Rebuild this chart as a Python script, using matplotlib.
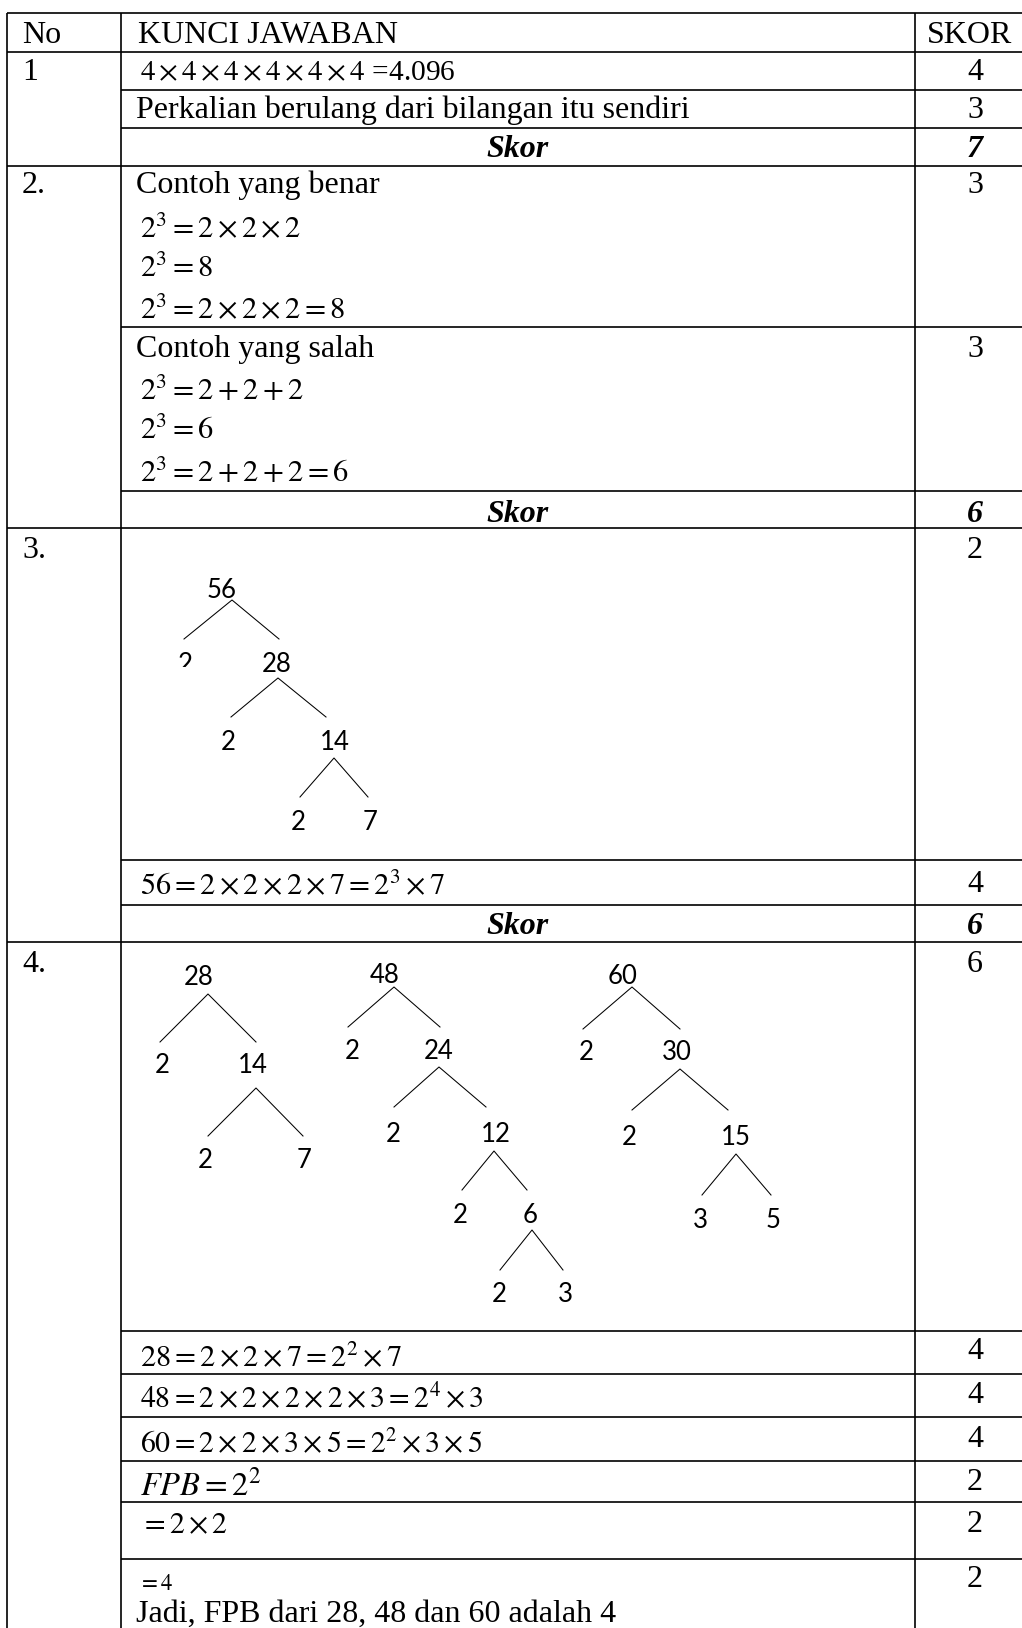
import matplotlib.pyplot as plt
from matplotlib.transforms import Bbox, TransformedBbox

plt.rcParams['mathtext.fontset'] = 'stix'

W, H = 1022, 1628

# table content
header = ["No", "KUNCI JAWABAN", "SKOR"]
numbers = ["1", "2.", "3.", "4."]

q1_lines = [r"$4\times4\times4\times4\times4\times4$ =4.096",
            "Perkalian berulang dari bilangan itu sendiri"]
q1_scores = ["4", "3"]
q1_total = "7"

q2_benar = ["Contoh yang benar", r"$2^3=2\times2\times2$", r"$2^3=8$",
            r"$2^3=2\times2\times2=8$"]
q2_salah = ["Contoh yang salah", r"$2^3=2+2+2$", r"$2^3=6$",
            r"$2^3=2+2+2=6$"]
q2_scores = ["3", "3"]
q2_total = "6"

q3_eq = r"$56=2\times2\times2\times7=2^3\times7$"
q3_scores = ["2", "4"]
q3_total = "6"

q4_eqs = [r"$28=2\times2\times7=2^2\times7$",
          r"$48=2\times2\times2\times2\times3=2^4\times3$",
          r"$60=2\times2\times3\times5=2^2\times3\times5$",
          r"$FPB=2^2$",
          r"$=2\times2$"]
q4_last = [r"$=4$", "Jadi, FPB dari 28, 48 dan 60 adalah 4"]
q4_scores = ["6", "4", "4", "4", "2", "2", "2"]

# factor trees (node values)
tree56 = ["56", "2", "28", "2", "14", "2", "7"]
tree28 = ["28", "2", "14", "2", "7"]
tree48 = ["48", "2", "24", "2", "12", "2", "6", "2", "3"]
tree60 = ["60", "2", "30", "2", "15", "3", "5"]

# ---- layout (pixel coords) ----
x_left, x_no, x_skor, x_right = 7, 121, 915, 1022
h_full = [13, 52, 166, 528, 942]
h_inner = [90, 128, 327, 491, 860, 905, 1331, 1374, 1417, 1461, 1502, 1559]

tree56_pos = [(222, 598), (185, 672), (277, 672), (228, 750), (335, 750), (298, 830), (370, 830)]
tree56_br = [((232, 600), (184, 639), (279, 639)), ((278, 678), (231, 717), (326, 717)),
             ((334, 758), (300, 797), (368, 797))]
tree28_pos = [(199, 985), (162, 1073), (253, 1073), (205, 1168), (304, 1168)]
tree28_br = [((208, 994), (160, 1042), (256, 1042)), ((256, 1088), (208, 1136), (303, 1136))]
tree48_pos = [(385, 983), (352, 1059), (439, 1059), (393, 1142), (496, 1142),
              (460, 1223), (530, 1223), (499, 1302), (565, 1302)]
tree48_br = [((394, 987), (348, 1027), (440, 1027)), ((439, 1067), (394, 1107), (486, 1107)),
             ((494, 1151), (462, 1190), (527, 1190)), ((532, 1230), (500, 1270), (563, 1270))]
tree60_pos = [(623, 984), (586, 1060), (677, 1060), (629, 1145), (736, 1145), (700, 1228), (773, 1228)]
tree60_br = [((632, 987), (583, 1029), (680, 1029)), ((680, 1069), (632, 1110), (728, 1110)),
             ((736, 1154), (702, 1195), (771, 1195))]

fig = plt.figure(figsize=(W / 100, H / 100), dpi=100)
ax = fig.add_axes([0, 0, 1, 1])
ax.set_xlim(0, W)
ax.set_ylim(H, 0)
ax.axis('off')

LW = 1.2
for y in h_full:
    ax.plot([x_left, x_right], [y, y], color='black', lw=LW, solid_capstyle='butt')
for y in h_inner:
    ax.plot([x_no, x_right], [y, y], color='black', lw=LW, solid_capstyle='butt')
for x in [x_left, x_no, x_skor]:
    ax.plot([x, x], [h_full[0], H], color='black', lw=LW, solid_capstyle='butt')

serif = 'Liberation Serif'
FS = 23


def txt(x, y, s, size=FS, ha='left', **kw):
    return ax.text(x, y, s, fontsize=size, family=serif, ha=ha, va='baseline', **kw)


def score(y, s, bold=False):
    if bold:
        txt(975, y, s, ha='center', weight='bold', style='italic')
    else:
        txt(975, y, s, ha='center')


def skor_label(y):
    txt(518, y, "Skor", ha='center', weight='bold', style='italic')


# header
txt(22, 43, header[0])
txt(138, 43, header[1])
txt(927, 43, header[2])

# soal 1
txt(22, 80, numbers[0])
txt(140, 80, q1_lines[0], size=21.2)
txt(136, 118, q1_lines[1])
score(80, q1_scores[0])
score(118, q1_scores[1])
skor_label(157)
score(157, q1_total, bold=True)

# soal 2
txt(22, 193, numbers[1])
txt(136, 193, q2_benar[0])
for i, s in enumerate(q2_benar[1:]):
    txt(140, [237, 277, 318][i], s, size=22)
txt(136, 357, q2_salah[0])
for i, s in enumerate(q2_salah[1:]):
    txt(140, [400, 439, 482][i], s, size=22)
score(193, q2_scores[0])
score(357, q2_scores[1])
skor_label(522)
score(522, q2_total, bold=True)

# soal 3
txt(22, 558, numbers[2])
score(558, q3_scores[0])
txt(140, 894, q3_eq, size=21.8)
score(892, q3_scores[1])
skor_label(934)
score(934, q3_total, bold=True)

# soal 4
txt(22, 972, numbers[3])
eq_y = [1366, 1408, 1452, 1495, 1533]
eq_size = [21.8, 21.5, 21.4, 23.5, 21.5]
sc_y = [972, 1359, 1403, 1447, 1490, 1532, 1587]
for s, y, fs in zip(q4_eqs, eq_y, eq_size):
    txt(140, y, s, size=fs)
txt(138, 1590, q4_last[0], size=16.5)
txt(136, 1622, q4_last[1])
for s, y in zip(q4_scores, sc_y):
    score(y, s)

# factor trees
TREE_FS = 18.5
clip_box = TransformedBbox(Bbox([[150, 600], [250, 667]]), ax.transData)
for vals, pos, br in [(tree56, tree56_pos, tree56_br), (tree28, tree28_pos, tree28_br),
                      (tree48, tree48_pos, tree48_br), (tree60, tree60_pos, tree60_br)]:
    for k, (v, (x, y)) in enumerate(zip(vals, pos)):
        t = ax.text(x, y, v, fontsize=TREE_FS, family='Lato', ha='center', va='baseline')
        if vals is tree56 and k == 1:
            # this label is cut off in the original
            t.set_clip_box(clip_box)
            t.set_clip_on(True)
    for (a, l, r) in br:
        ax.plot([l[0], a[0], r[0]], [l[1], a[1], r[1]], color='black', lw=0.75)

fig.savefig('out.png', dpi=100)
